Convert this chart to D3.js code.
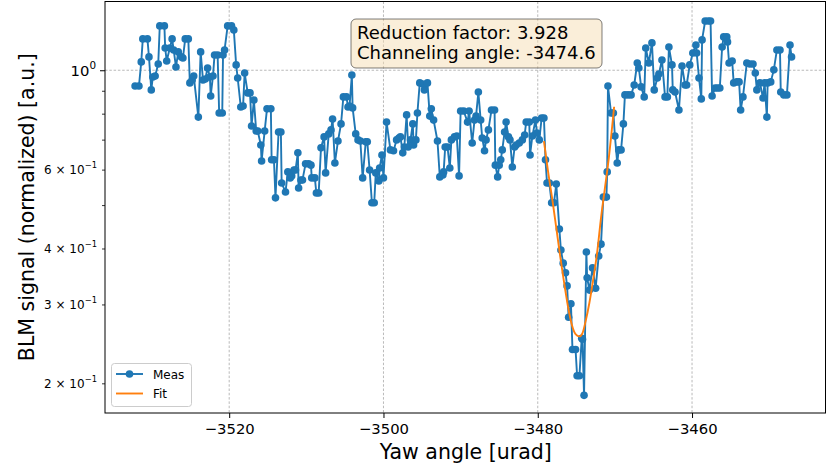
<!DOCTYPE html>
<html>
<head>
<meta charset="utf-8">
<script src="https://cdn.jsdelivr.net/npm/d3@7"></script>
<style>
  html, body { margin: 0; padding: 0; background: #fff; }
  svg { display: block; font-family: "DejaVu Sans", sans-serif; }
</style>
</head>
<body>
<svg id="chart" width="827" height="469"></svg>
<script>
// Yaw scan: measured BLM signal (normalized) versus yaw angle [urad]
const yawAngle = [
  -3532.2, -3531.7, -3531.4, -3531.2, -3530.6, -3530.4, -3530.1, -3529.9, -3529.6, -3529.2,
  -3529.0, -3528.4, -3528.3, -3528.1, -3527.7, -3527.4, -3527.2, -3526.9, -3526.6, -3526.2,
  -3526.0, -3525.7, -3525.3, -3525.1, -3524.8, -3524.6, -3524.0, -3523.7, -3523.4, -3523.1,
  -3522.8, -3522.5, -3522.4, -3522.1, -3521.9, -3521.5, -3521.3, -3520.9, -3520.8, -3520.6,
  -3520.2, -3519.7, -3519.4, -3519.1, -3518.9, -3518.5, -3518.2, -3518.0, -3517.6, -3517.3,
  -3517.1, -3516.8, -3516.5, -3516.3, -3515.9, -3515.8, -3515.4, -3515.1, -3514.6, -3514.5,
  -3514.2, -3514.0, -3513.6, -3513.3, -3513.2, -3512.7, -3512.4, -3512.1, -3511.9, -3511.6,
  -3511.4, -3511.1, -3511.0, -3510.7, -3510.5, -3510.1, -3509.7, -3509.4, -3509.3, -3508.9,
  -3508.7, -3508.4, -3508.1, -3507.7, -3507.5, -3507.1, -3506.8, -3506.6, -3506.3, -3505.9,
  -3505.5, -3505.2, -3504.8, -3504.6, -3504.4, -3504.1, -3504.0, -3503.6, -3503.3, -3503.0,
  -3502.7, -3502.3, -3502.1, -3501.8, -3501.5, -3501.2, -3501.0, -3500.6, -3500.5, -3500.2,
  -3500.0, -3499.6, -3499.1, -3498.7, -3498.3, -3498.0, -3497.8, -3497.5, -3497.3, -3497.0,
  -3496.8, -3496.5, -3496.2, -3496.1, -3495.8, -3495.6, -3495.3, -3494.9, -3494.7, -3494.3,
  -3494.0, -3493.8, -3493.5, -3493.0, -3492.7, -3492.3, -3492.2, -3492.0, -3491.7, -3491.4,
  -3491.2, -3490.8, -3490.5, -3490.2, -3490.0, -3489.6, -3489.1, -3488.9, -3488.5, -3488.2,
  -3488.0, -3487.7, -3487.4, -3487.2, -3486.9, -3486.7, -3486.4, -3486.0, -3485.6, -3485.5,
  -3485.2, -3485.0, -3484.8, -3484.6, -3484.3, -3484.1, -3483.8, -3483.6, -3483.3, -3483.0,
  -3482.8, -3482.4, -3482.0, -3481.7, -3481.5, -3481.1, -3481.0, -3480.7, -3480.3, -3480.1,
  -3479.8, -3479.5, -3479.2, -3479.0, -3478.8, -3478.5, -3478.2, -3477.9, -3477.6, -3477.2,
  -3477.0, -3476.7, -3476.4, -3476.2, -3476.0, -3475.7, -3475.5, -3475.1, -3474.9, -3474.6,
  -3474.3, -3474.2, -3474.0, -3473.7, -3473.6, -3473.3, -3472.9, -3472.5, -3472.1, -3471.8,
  -3471.5, -3471.1, -3471.0, -3470.9, -3470.5, -3470.2, -3470.0, -3469.7, -3469.5, -3469.2,
  -3468.9, -3468.7, -3468.3, -3467.9, -3467.5, -3467.1, -3466.9, -3466.6, -3466.2, -3466.0,
  -3465.6, -3465.2, -3464.9, -3464.5, -3464.3, -3463.9, -3463.5, -3463.2, -3463.0, -3462.6,
  -3462.5, -3462.2, -3461.7, -3461.3, -3460.9, -3460.7, -3460.3, -3459.9, -3459.5, -3459.4,
  -3459.1, -3458.8, -3458.7, -3458.3, -3457.9, -3457.6, -3457.4, -3457.0, -3456.7, -3456.4,
  -3456.1, -3455.9, -3455.5, -3455.4, -3455.2, -3454.8, -3454.6, -3454.2, -3453.9, -3453.7,
  -3453.4, -3452.9, -3452.5, -3452.1, -3451.8, -3451.6, -3451.2, -3450.8, -3450.6, -3450.3,
  -3450.2, -3449.8, -3449.4, -3449.0, -3448.6, -3448.5, -3448.1, -3447.7, -3447.3, -3447.1
];

const blmSignal = [
  0.922, 0.922, 1.044, 1.175, 1.175, 1.071, 0.904, 0.966, 0.971, 1.033,
  1.256, 1.256, 1.121, 1.049, 1.121, 1.175, 1.110, 1.017, 1.099, 1.071,
  1.065, 1.175, 1.175, 0.937, 0.951, 0.971, 0.786, 1.099, 0.951, 0.956,
  1.012, 0.966, 0.876, 0.971, 1.082, 1.082, 0.803, 0.803, 1.082, 1.110,
  1.256, 1.256, 1.230, 1.028, 0.961, 0.828, 0.832, 0.986, 0.890, 0.890,
  0.751, 0.858, 0.732, 0.732, 0.681, 0.627, 0.732, 0.820, 0.820, 0.631,
  0.631, 0.519, 0.728, 0.728, 0.560, 0.535, 0.593, 0.575, 0.581, 0.599,
  0.599, 0.654, 0.546, 0.569, 0.569, 0.618, 0.618, 0.614, 0.575, 0.575,
  0.532, 0.532, 0.671, 0.710, 0.590, 0.721, 0.736, 0.778, 0.621, 0.695,
  0.759, 0.872, 0.872, 0.828, 0.832, 0.976, 0.824, 0.721, 0.699, 0.695,
  0.575, 0.692, 0.692, 0.599, 0.506, 0.506, 0.590, 0.566, 0.605, 0.647,
  0.575, 0.766, 0.664, 0.661, 0.699, 0.706, 0.710, 0.654, 0.674, 0.795,
  0.674, 0.699, 0.759, 0.681, 0.699, 0.803, 0.937, 0.932, 0.904, 0.937,
  0.790, 0.820, 0.774, 0.695, 0.578, 0.584, 0.593, 0.674, 0.674, 0.605,
  0.699, 0.710, 0.713, 0.581, 0.811, 0.811, 0.766, 0.811, 0.688, 0.774,
  0.790, 0.894, 0.774, 0.706, 0.661, 0.699, 0.736, 0.815, 0.815, 0.614,
  0.578, 0.614, 0.631, 0.664, 0.728, 0.766, 0.710, 0.699, 0.608, 0.674,
  0.681, 0.688, 0.699, 0.717, 0.766, 0.766, 0.647, 0.713, 0.774, 0.724,
  0.699, 0.782, 0.782, 0.631, 0.560, 0.560, 0.506, 0.506, 0.557, 0.442,
  0.397, 0.371, 0.353, 0.330, 0.281, 0.301, 0.238, 0.238, 0.208, 0.208,
  0.252, 0.251, 0.188, 0.393, 0.344, 0.323, 0.362, 0.326, 0.385, 0.409,
  0.521, 0.521, 0.593, 0.922, 0.803, 0.803, 0.713, 0.621, 0.664, 0.664,
  0.759, 0.881, 0.881, 0.881, 0.927, 1.038, 1.012, 0.918, 0.872, 1.121,
  1.038, 1.151, 0.904, 0.961, 0.981, 1.054, 0.872, 0.872, 1.127, 1.028,
  0.904, 0.894, 0.815, 1.022, 0.927, 0.927, 1.028, 1.093, 1.139, 1.093,
  0.961, 0.863, 1.169, 1.288, 1.288, 1.288, 0.876, 0.913, 0.913, 0.913,
  1.127, 1.187, 1.187, 1.157, 1.038, 1.049, 0.937, 0.942, 0.942, 0.815,
  0.872, 1.038, 1.033, 1.033, 0.986, 0.904, 0.937, 0.867, 0.937, 0.786,
  0.937, 0.942, 1.002, 1.110, 1.110, 0.894, 0.881, 0.881, 1.139, 1.071
];

// Fitted dip around the channeling minimum
const reductionFactor = 3.928;
const channelingAngle = -3474.6;
const fitAngle = [
  -3479.2, -3478.7, -3478.1, -3477.6, -3477.1, -3476.6, -3476.1, -3475.6, -3475.1, -3474.6,
  -3474.2, -3473.8, -3473.3, -3472.8, -3472.3, -3471.8, -3471.3, -3470.8, -3470.1
];
const fitSignal = [
  0.695, 0.600, 0.513, 0.445, 0.385, 0.337, 0.298, 0.271, 0.2575, 0.2546,
  0.259, 0.275, 0.303, 0.342, 0.392, 0.468, 0.545, 0.635, 0.829
];

const xTicks = [-3520, -3500, -3480, -3460];
const xLimits = [-3536.1, -3442.7];
const yLimits = [0.1717, 1.424];
const yMajorTicks = [1];
const yMinorTicks = [0.2, 0.3, 0.4, 0.5, 0.6, 0.7, 0.8, 0.9];
const yMinorLabels = [
  { v: 0.6, mant: "6" }, { v: 0.4, mant: "4" }, { v: 0.3, mant: "3" }, { v: 0.2, mant: "2" }
];

const blue = "#1f77b4", orange = "#ff7f0e";
const box = { left: 105, right: 825.5, top: 1.5, bottom: 413 };

const svg = d3.select("#chart");

const x = d3.scaleLinear().domain(xLimits).range([box.left, box.right]);
const y = d3.scaleLog().domain(yLimits).range([box.bottom, box.top]);

// grid (major ticks only)
const grid = svg.append("g").attr("stroke", "#8c8c8c").attr("stroke-width", 0.6)
  .attr("stroke-dasharray", "2.5,1.8");
xTicks.forEach(t => grid.append("line")
  .attr("x1", x(t)).attr("x2", x(t)).attr("y1", box.top).attr("y2", box.bottom));
yMajorTicks.forEach(t => grid.append("line")
  .attr("x1", box.left).attr("x2", box.right).attr("y1", y(t)).attr("y2", y(t)));

// x axis
const xAxis = d3.axisBottom(x).tickValues(xTicks).tickSize(5).tickPadding(5)
  .tickFormat(d => d3.format("d")(d).replace("-", "\u2212"));
const gx = svg.append("g").attr("transform", `translate(0,${box.bottom})`).call(xAxis);
gx.select(".domain").remove();
gx.selectAll("line").attr("stroke", "#000").attr("stroke-width", 1);
gx.selectAll("text").attr("font-family", "DejaVu Sans").attr("font-size", 14.8).attr("fill", "#000");

// y axis: minor ticks
const yMinorAxis = d3.axisLeft(y).tickValues(yMinorTicks).tickSize(3).tickFormat("");
const gyMinor = svg.append("g").attr("transform", `translate(${box.left},0)`).call(yMinorAxis);
gyMinor.select(".domain").remove();
gyMinor.selectAll("line").attr("stroke", "#000").attr("stroke-width", 0.8);

// y axis: major ticks
const yMajorAxis = d3.axisLeft(y).tickValues(yMajorTicks).tickSize(5).tickFormat("");
const gyMajor = svg.append("g").attr("transform", `translate(${box.left},0)`).call(yMajorAxis);
gyMajor.select(".domain").remove();
gyMajor.selectAll("line").attr("stroke", "#000").attr("stroke-width", 1);

// y tick labels in scientific notation
const yLab = svg.append("g").attr("text-anchor", "end").attr("fill", "#000");
yMajorTicks.forEach(t => {
  const txt = yLab.append("text").attr("x", 96).attr("y", y(t) + 5.4).attr("font-size", 14.8);
  txt.append("tspan").text("10");
  txt.append("tspan").attr("font-size", 10.4).attr("dy", -7).text("0");
});
yMinorLabels.forEach(d => {
  const txt = yLab.append("text").attr("x", 97).attr("y", y(d.v) + 4.3).attr("font-size", 12);
  txt.append("tspan").text(d.mant + " \u00d7 10");
  txt.append("tspan").attr("font-size", 8.4).attr("dy", -6).text("\u22121");
});

// measured series
const line = d3.line().x((d, i) => x(yawAngle[i])).y(d => y(d));
svg.append("path").datum(blmSignal)
  .attr("d", line).attr("fill", "none").attr("stroke", blue)
  .attr("stroke-width", 1.9).attr("stroke-linejoin", "round");
svg.append("g").selectAll("circle").data(blmSignal).join("circle")
  .attr("cx", (d, i) => x(yawAngle[i])).attr("cy", d => y(d))
  .attr("r", 3.8).attr("fill", blue);

// fit curve
const fitLine = d3.line().x((d, i) => x(fitAngle[i])).y(d => y(d)).curve(d3.curveMonotoneX);
svg.append("path").datum(fitSignal)
  .attr("d", fitLine).attr("fill", "none").attr("stroke", orange).attr("stroke-width", 1.9);

// frame
svg.append("rect").attr("x", box.left).attr("y", box.top)
  .attr("width", box.right - box.left).attr("height", box.bottom - box.top)
  .attr("fill", "none").attr("stroke", "#000").attr("stroke-width", 1);

// axis titles
svg.append("text").attr("x", (box.left + box.right) / 2 + 0.5).attr("y", 459)
  .attr("text-anchor", "middle").attr("font-size", 20.5).attr("fill", "#000")
  .text("Yaw angle [urad]");
svg.append("text").attr("transform", `translate(34,${(box.top + box.bottom) / 2}) rotate(-90)`)
  .attr("text-anchor", "middle").attr("font-size", 20.5).attr("fill", "#000")
  .text("BLM signal (normalized) [a.u.]");

// annotation box with fit results
const ann = svg.append("g");
ann.append("rect").attr("x", 351).attr("y", 19).attr("width", 251).attr("height", 49).attr("rx", 5)
  .attr("fill", "wheat").attr("fill-opacity", 0.5)
  .attr("stroke", "#000").attr("stroke-opacity", 0.5).attr("stroke-width", 1);
ann.append("text").attr("x", 357).attr("y", 39.3).attr("font-size", 18).attr("fill", "#000")
  .text(`Reduction factor: ${reductionFactor.toFixed(3)}`);
ann.append("text").attr("x", 357).attr("y", 59.3).attr("font-size", 18).attr("fill", "#000")
  .text(`Channeling angle: ${channelingAngle.toFixed(1)}`);

// legend
const leg = svg.append("g");
leg.append("rect").attr("x", 111.5).attr("y", 363.5).attr("width", 80).attr("height", 43).attr("rx", 3)
  .attr("fill", "#fff").attr("fill-opacity", 0.8).attr("stroke", "#cccccc").attr("stroke-width", 1);
leg.append("line").attr("x1", 116).attr("x2", 143).attr("y1", 374).attr("y2", 374)
  .attr("stroke", blue).attr("stroke-width", 1.9);
leg.append("circle").attr("cx", 129.5).attr("cy", 374).attr("r", 3.8).attr("fill", blue);
leg.append("line").attr("x1", 116).attr("x2", 143).attr("y1", 393.5).attr("y2", 393.5)
  .attr("stroke", orange).attr("stroke-width", 1.9);
leg.append("text").attr("x", 153).attr("y", 378.5).attr("font-size", 12).attr("fill", "#000").text("Meas");
leg.append("text").attr("x", 153).attr("y", 398).attr("font-size", 12).attr("fill", "#000").text("Fit");
</script>
</body>
</html>
